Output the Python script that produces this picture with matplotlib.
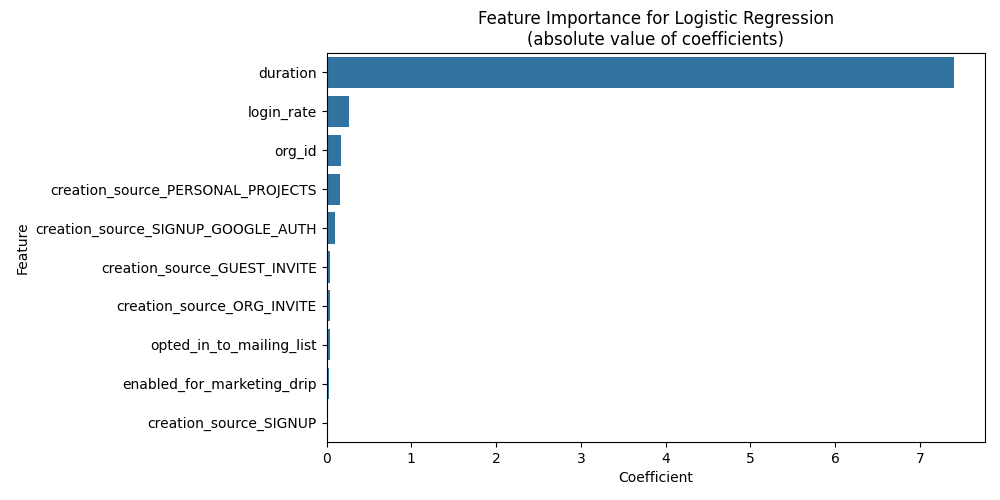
import matplotlib
matplotlib.use("Agg")
import matplotlib.pyplot as plt
import seaborn as sns
import pandas as pd

features = [
    "duration",
    "login_rate",
    "org_id",
    "creation_source_PERSONAL_PROJECTS",
    "creation_source_SIGNUP_GOOGLE_AUTH",
    "creation_source_GUEST_INVITE",
    "creation_source_ORG_INVITE",
    "opted_in_to_mailing_list",
    "enabled_for_marketing_drip",
    "creation_source_SIGNUP",
]
coefficients = [7.40, 0.265, 0.17, 0.157, 0.098, 0.045, 0.038, 0.038, 0.03, 0.002]

df = pd.DataFrame({"Feature": features, "Coefficient": coefficients})

fig, ax = plt.subplots(figsize=(10, 5), dpi=100)
sns.barplot(data=df, x="Coefficient", y="Feature", ax=ax)
ax.set_title("Feature Importance for Logistic Regression\n(absolute value of coefficients)")
fig.subplots_adjust(left=0.3265, right=0.9853, top=0.894, bottom=0.116)
plt.savefig("out.png")
